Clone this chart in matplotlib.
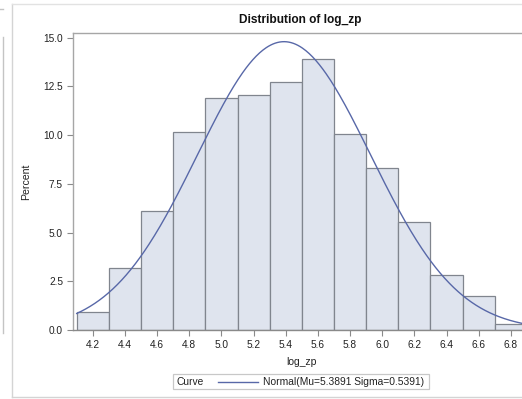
import numpy as np
import matplotlib
matplotlib.use("Agg")
import matplotlib.pyplot as plt
from matplotlib.patches import Rectangle
from matplotlib.lines import Line2D

# ---- data ----
bin_mids = [4.2, 4.4, 4.6, 4.8, 5.0, 5.2, 5.4, 5.6, 5.8, 6.0, 6.2, 6.4, 6.6, 6.8]
percents = [0.92, 3.17, 6.13, 10.15, 11.93, 12.05, 12.75, 13.93, 10.05, 8.30, 5.53, 2.82, 1.76, 0.32]
bin_width = 0.2
mu = 5.3891
sigma = 0.5391
x_ticks = [4.2, 4.4, 4.6, 4.8, 5.0, 5.2, 5.4, 5.6, 5.8, 6.0, 6.2, 6.4, 6.6, 6.8]
y_ticks = [0.0, 2.5, 5.0, 7.5, 10.0, 12.5, 15.0]

W, H = 522, 399
plt.rcParams['font.family'] = ['Liberation Sans', 'DejaVu Sans']
fig = plt.figure(figsize=(W / 100, H / 100), dpi=100)
fig.patch.set_facecolor('white')

def fx(px):
    return px / W

def fy(py):
    return 1 - py / H

# axes: left 72.7px, right 531px (beyond crop), top 33.3px, bottom 330px
ax_l, ax_r, ax_t, ax_b = 72.7, 531.0, 33.3, 330.0
ax = fig.add_axes([fx(ax_l), fy(ax_b), fx(ax_r - ax_l), (ax_b - ax_t) / H])

bar_fill = '#dfe4ee'
bar_edge = '#80858e'
curve_col = '#5868a8'
frame_col = '#a6a6a6'
txt_col = '#222222'

ax.bar(bin_mids, percents, width=bin_width, color=bar_fill, edgecolor=bar_edge, linewidth=0.9, zorder=2)

edges_lo = bin_mids[0] - bin_width / 2
edges_hi = bin_mids[-1] + bin_width / 2
xs = np.linspace(edges_lo, edges_hi, 400)
ys = 100 * bin_width * np.exp(-0.5 * ((xs - mu) / sigma) ** 2) / (sigma * np.sqrt(2 * np.pi))
ax.plot(xs, ys, color=curve_col, linewidth=1.0, zorder=3)

ax.set_xlim(4.075, 6.925)
ax.set_ylim(0, 15.23)
ax.set_xticks(x_ticks)
ax.set_xticklabels([f"{v:.1f}" for v in x_ticks])
ax.set_yticks(y_ticks)
ax.set_yticklabels([f"{v:.1f}" for v in y_ticks])
ax.tick_params(axis='both', direction='out', length=4, width=0.8, color='#8a8a8a',
               labelsize=7.3, labelcolor=txt_col, pad=3)
for s in ax.spines.values():
    s.set_color(frame_col)
    s.set_linewidth(1.0)
ax.spines['bottom'].set_color('#8a8a8a')

ax.set_xlabel('log_zp', fontsize=7.5, color=txt_col, labelpad=5)
ax.set_ylabel('Percent', fontsize=7.6, color=txt_col, labelpad=8.5)

# title
fig.text(fx(300), fy(20.5), 'Distribution of log_zp', ha='center', va='center',
         fontsize=8.6, fontweight='bold', color='#111111')

# outer panel border
fig.add_artist(Line2D([fx(11.7), fx(11.7)], [fy(4.3), fy(397.3)], color='#d4d4d4', lw=1.0))
fig.add_artist(Line2D([fx(11.7), fx(522)], [fy(4.3), fy(4.3)], color='#e2e2e2', lw=1.0))
fig.add_artist(Line2D([fx(11.7), fx(522)], [fy(397.3), fy(397.3)], color='#d4d4d4', lw=1.0))
# partial neighbouring panel at far left
fig.add_artist(Line2D([fx(2.5), fx(2.5)], [fy(37), fy(333)], color='#c4c4c4', lw=1.0))
fig.add_artist(Line2D([fx(0), fx(3)], [fy(9), fy(9)], color='#c4c4c4', lw=1.0))

# legend box
lg_l, lg_r, lg_t, lg_b = 172.7, 429.3, 374.3, 389.3
fig.add_artist(Rectangle((fx(lg_l), fy(lg_b)), fx(lg_r - lg_l), (lg_b - lg_t) / H,
                         facecolor='white', edgecolor='#c8c8c8', lw=0.9))
lg_cy = (lg_t + lg_b) / 2
fig.text(fx(176.5), fy(lg_cy), 'Curve', ha='left', va='center', fontsize=7.4, color=txt_col)
fig.add_artist(Line2D([fx(218), fx(258)], [fy(lg_cy), fy(lg_cy)], color=curve_col, lw=1.0))
fig.text(fx(263), fy(lg_cy), f'Normal(Mu={mu:.4f} Sigma={sigma:.4f})', ha='left', va='center',
         fontsize=7.4, color=txt_col)

fig.savefig('out.png', dpi=100)
